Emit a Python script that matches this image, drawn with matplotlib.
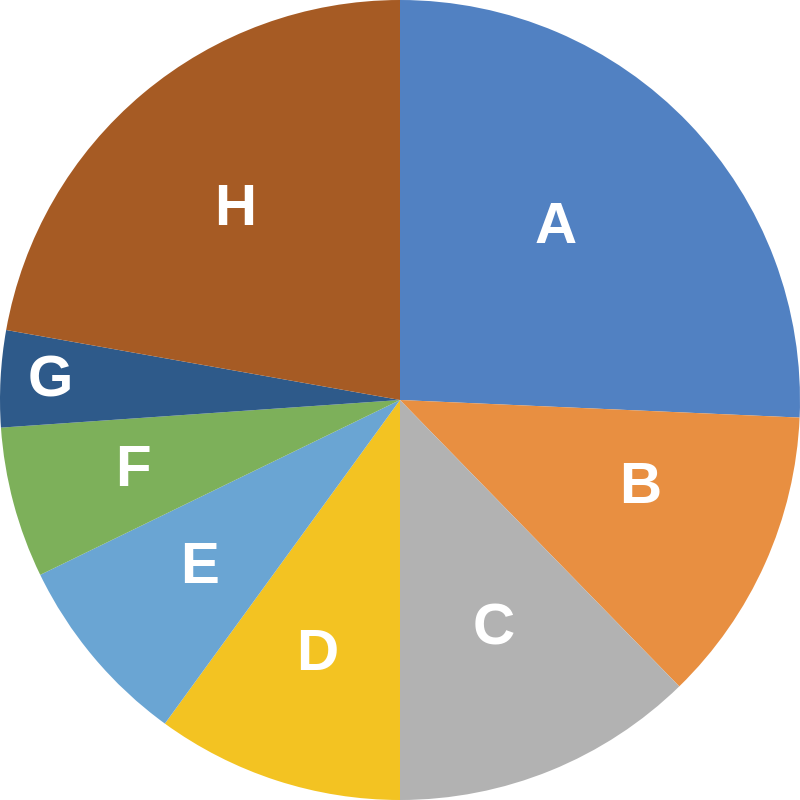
import numpy as np
import matplotlib
matplotlib.use("Agg")
import matplotlib.pyplot as plt

labels = ["A", "B", "C", "D", "E", "F", "G", "H"]
values = [25.7, 12.0, 12.3, 10.0, 7.8, 6.1, 3.9, 22.2]
colors = ["#5181C2", "#E88F41", "#B2B2B2", "#F3C322",
          "#6AA5D3", "#7DB05A", "#2E5A8A", "#A65B24"]

# label radius (fraction of pie radius) per slice
label_r = [0.58, 0.64, 0.62, 0.67, 0.655, 0.69, 0.875, 0.63]
label_shift = [4, 4, 0, 0, 0, 0, 0, 1]  # small angular nudge, degrees

fig = plt.figure(figsize=(8, 8), dpi=100)
ax = fig.add_axes([0, 0, 1, 1])

wedges, _ = ax.pie(values, colors=colors, startangle=90, counterclock=False,
                   radius=1.0, wedgeprops={"linewidth": 0})

for w, lab, r, sh in zip(wedges, labels, label_r, label_shift):
    mid = np.deg2rad((w.theta1 + w.theta2) / 2 + sh)
    ax.text(r * np.cos(mid), r * np.sin(mid), lab, ha="center", va="center",
            color="white", fontsize=42, fontweight="bold",
            family="Liberation Sans")

ax.set_xlim(-1, 1)
ax.set_ylim(-1, 1)
ax.set_aspect("equal")
ax.axis("off")

fig.savefig("out.png", dpi=100)
